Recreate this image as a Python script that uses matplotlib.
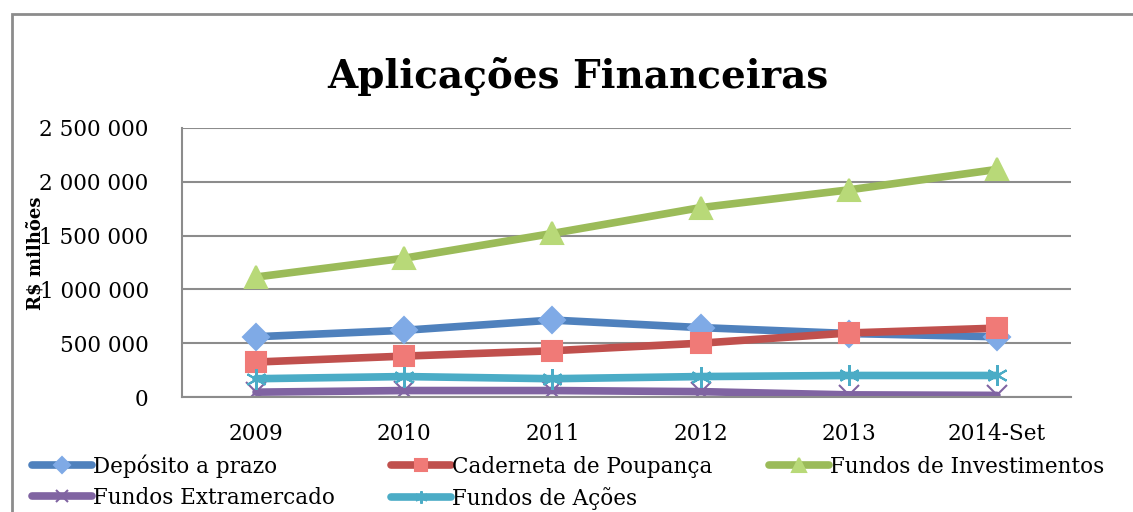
import matplotlib.pyplot as plt
from matplotlib.patches import Rectangle
from matplotlib.ticker import FuncFormatter

# Dados (R$ milhões)
anos = ["2009", "2010", "2011", "2012", "2013", "2014-Set"]
deposito = [560000, 620000, 715000, 645000, 590000, 560000]
poupanca = [325000, 380000, 430000, 500000, 595000, 640000]
investimentos = [1115000, 1290000, 1520000, 1760000, 1925000, 2115000]
extramercado = [45000, 60000, 60000, 50000, 20000, 15000]
acoes = [170000, 190000, 170000, 190000, 200000, 200000]

plt.rcParams['font.family'] = ['DejaVu Serif']

fig = plt.figure(figsize=(11.33, 5.12), dpi=100)
ax = fig.add_axes([0.1606, 0.2246, 0.7847, 0.5254])

x = list(range(len(anos)))
lw = 5.5
series = [
    (deposito, "Depósito a prazo", "#4F81BD", "#7FAAE6", "D", 13),
    (poupanca, "Caderneta de Poupança", "#C0504D", "#F07A77", "s", 15),
    (investimentos, "Fundos de Investimentos", "#9BBB59", "#B8D978", "^", 16),
    (extramercado, "Fundos Extramercado", "#8064A2", "#8064A2", "x", 14),
    (acoes, "Fundos de Ações", "#4BACC6", "#4BACC6", (6, 2, 0), 15),
]
linhas = []
for vals, nome, cor, face, mk, ms in series:
    ln, = ax.plot(x, vals, color=cor, lw=lw, marker=mk, markersize=ms,
                  markerfacecolor=face, markeredgecolor=cor if mk in ("x", (6, 2, 0)) else face,
                  markeredgewidth=1.5, label=nome, solid_capstyle='round')
    linhas.append(ln)

ax.set_xlim(-0.5, 5.5)
ax.set_ylim(0, 2500000)
ax.set_yticks([0, 500000, 1000000, 1500000, 2000000, 2500000])
ax.yaxis.set_major_formatter(FuncFormatter(lambda v, p: f"{int(v):,}".replace(",", " ")))
ax.set_xticks(x)
ax.set_xticklabels(anos)
ax.tick_params(axis='both', length=0, labelsize=15.5)
ax.tick_params(axis='y', pad=24)
ax.tick_params(axis='x', pad=19)
ax.grid(axis='y', color='#8c8c8c', lw=1.5)
ax.set_axisbelow(True)
for s in ['top', 'right']:
    ax.spines[s].set_visible(False)
ax.spines['left'].set_color('#8c8c8c')
ax.spines['left'].set_linewidth(1.5)
ax.spines['bottom'].set_color('#8c8c8c')
ax.spines['bottom'].set_linewidth(1.5)

fig.text(0.51, 0.851, "Aplicações Financeiras", ha='center', va='center',
         fontsize=28, fontweight='bold')
fig.text(0.031, 0.505, "R$ milhões", rotation=90, ha='center', va='center',
         fontsize=13, fontweight='bold')

# ordem por linhas como no Excel
ordem = [0, 3, 1, 4, 2]
fig.legend([linhas[i] for i in ordem], [series[i][1] for i in ordem],
           loc='upper left', bbox_to_anchor=(0.028, 0.113), ncol=3, frameon=False,
           fontsize=15.5, handlelength=2.8, handletextpad=0.05, columnspacing=2.6,
           labelspacing=0.42, borderpad=0, borderaxespad=0, markerscale=0.6)

fig.patches.append(Rectangle((12 / 1133, -0.1), 1.2, 1 - 14 / 512 + 0.1,
                             transform=fig.transFigure, fill=False,
                             edgecolor='#8c8c8c', lw=2))

fig.savefig("out.png", dpi=100)
